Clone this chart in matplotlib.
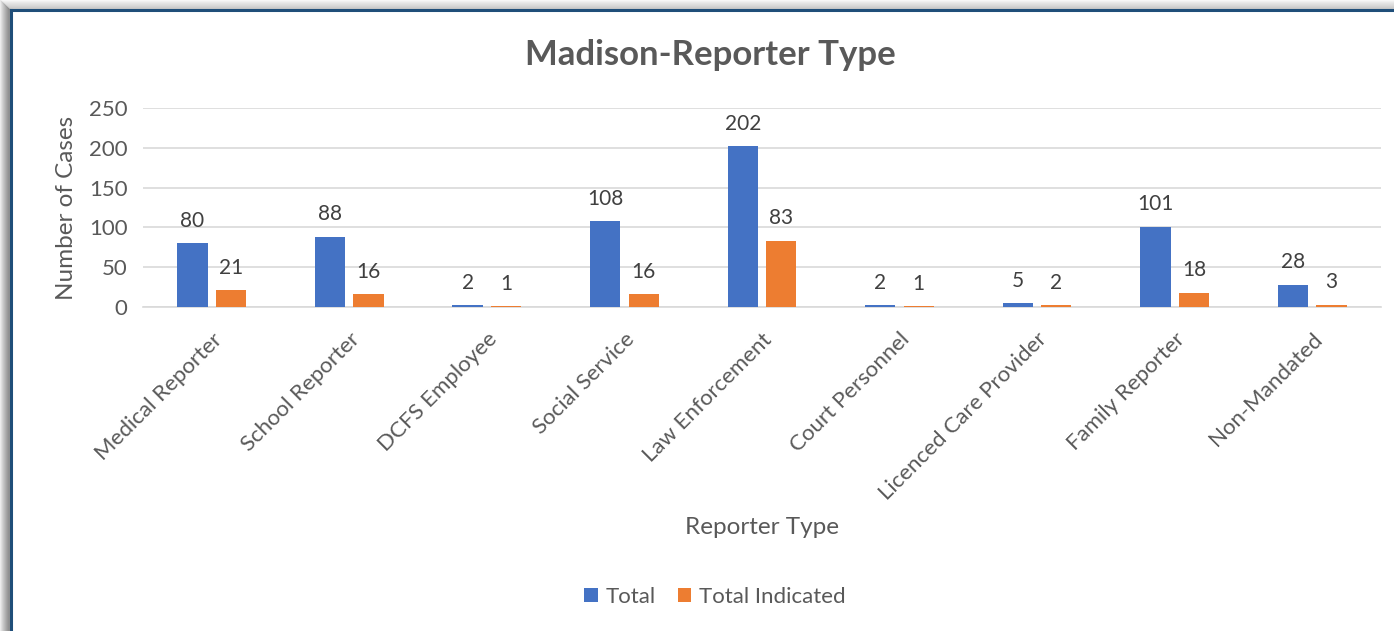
import numpy as np
import matplotlib.pyplot as plt
from matplotlib.lines import Line2D

# Data
categories = ['Medical Reporter', 'School Reporter', 'DCFS Employee', 'Social Service',
              'Law Enforcement', 'Court Personnel', 'Licenced Care Provider',
              'Family Reporter', 'Non-Mandated']
total = [80, 88, 2, 108, 202, 2, 5, 101, 28]
total_indicated = [21, 16, 1, 16, 83, 1, 2, 18, 3]
y_ticks = [0, 50, 100, 150, 200, 250]

BLUE = '#4472c4'
ORANGE = '#ed7d31'
TEXT = '#595959'
GRID = '#d9d9d9'

plt.rcParams['font.family'] = ['Lato', 'DejaVu Sans']

fig = plt.figure(figsize=(13.94, 6.31), dpi=100)
fig.patch.set_facecolor('white')

# window-ish frame: grey shadow + dark blue border on top/left
for i in range(10):
    a = 0.08 + 0.06 * i
    fig.add_artist(Line2D([i / 1394, i / 1394], [0, 1 - i / 631], color='0.35', alpha=a,
                          lw=1.0, transform=fig.transFigure))
    fig.add_artist(Line2D([i / 1394, 1], [1 - i / 631, 1 - i / 631], color='0.5', alpha=a * 0.6,
                          lw=1.0, transform=fig.transFigure))
fig.add_artist(Line2D([11 / 1394, 11 / 1394], [0, 1 - 10 / 631], color='#1f4e79', lw=2.2,
                      transform=fig.transFigure))
fig.add_artist(Line2D([11 / 1394, 1], [1 - 10 / 631, 1 - 10 / 631], color='#1f4e79', lw=2.2,
                      transform=fig.transFigure))

ax = fig.add_axes([143 / 1394, 324 / 631, (1381 - 143) / 1394, (523 - 324) / 631])

x = np.arange(len(categories))
w = 0.22
off = 0.14
b1 = ax.bar(x - off, total, w, color=BLUE, label='Total', zorder=3)
b2 = ax.bar(x + off, total_indicated, w, color=ORANGE, label='Total Indicated', zorder=3)

for bars in (b1, b2):
    for rect in bars:
        h = rect.get_height()
        ax.annotate(f'{h:g}', (rect.get_x() + rect.get_width() / 2, h),
                    xytext=(0, 9), textcoords='offset points', ha='center', va='bottom',
                    fontsize=15, color='#404040')

ax.set_xlim(-0.5, len(categories) - 0.5)
ax.set_ylim(0, 250)
ax.set_yticks(y_ticks)
ax.yaxis.grid(True, color=GRID, lw=1.2, zorder=0)
ax.set_axisbelow(True)
for s in ['top', 'right', 'left']:
    ax.spines[s].set_visible(False)
ax.spines['bottom'].set_color(GRID)
ax.spines['bottom'].set_linewidth(1.2)
ax.tick_params(axis='both', length=0, labelsize=16, colors=TEXT)
ax.tick_params(axis='y', pad=11)
ax.set_xticks(x)
ax.set_xticklabels(categories, rotation=45, ha='right', rotation_mode='anchor')
ax.tick_params(axis='x', pad=16)

ax.set_ylabel('Number of Cases', fontsize=17.5, color=TEXT, labelpad=9)
ax.set_xlabel('Reporter Type', fontsize=17.5, color=TEXT)
ax.xaxis.label.set_va('center')
ax.xaxis.set_label_coords((762 - 143) / (1381 - 143), -(527 - 307) / (523 - 324))

fig.text(710 / 1394, 1 - 55 / 631, 'Madison-Reporter Type', ha='center', va='center',
         fontsize=25, fontweight='bold', color=TEXT)

fig.legend(handles=[b1, b2], loc='center', bbox_to_anchor=(715 / 1394, 1 - 597 / 631),
           ncol=2, frameon=False, fontsize=16, handlelength=0.6, handleheight=0.6,
           columnspacing=1.0, handletextpad=0.35, labelcolor=TEXT)

fig.savefig('out.png', dpi=100)
